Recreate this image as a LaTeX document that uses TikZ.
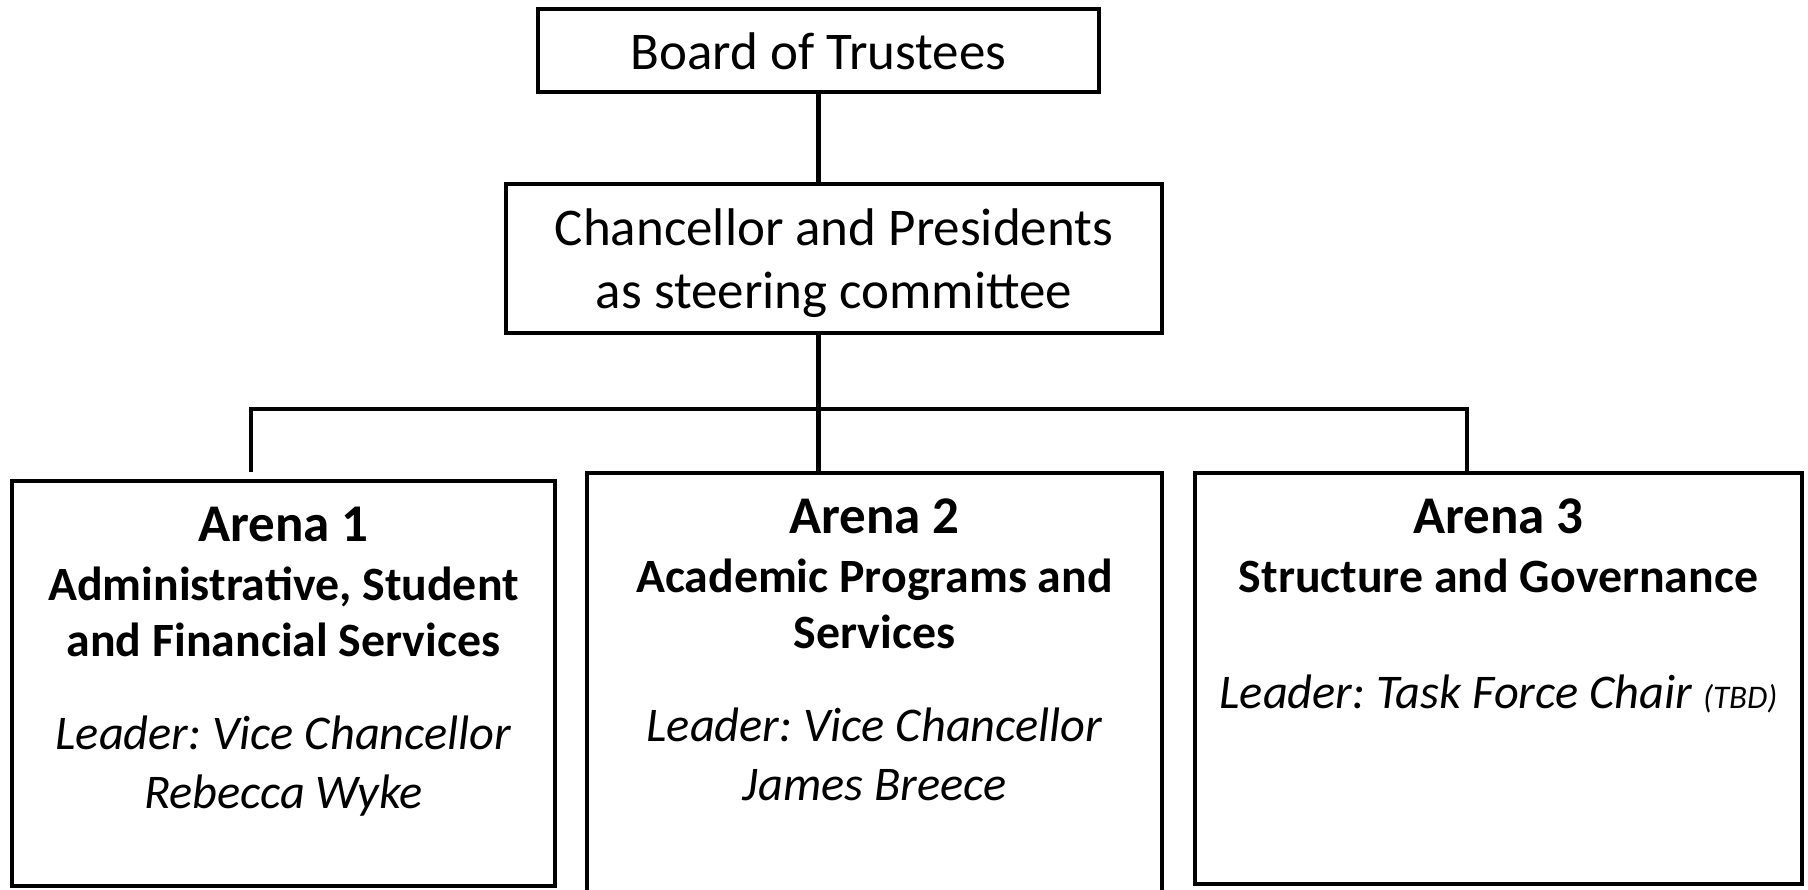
\documentclass[tikz,border=0pt]{standalone}
\usepackage{fontspec}
\setmainfont{Carlito}
\usetikzlibrary{fit}
\frenchspacing
\begin{document}
\begin{tikzpicture}[x=0.5pt,y=-0.5pt,
  box/.style={draw, line width=2.2pt, inner sep=0pt},
  conn/.style={line width=2.2pt},
  lbl/.style={font=\fontsize{26.5}{31.5}\selectfont, inner sep=0pt, align=center, anchor=base},
  head/.style={font=\fontsize{26.5}{31.5}\selectfont\bfseries, inner sep=0pt, align=center, anchor=base},
  sub/.style={font=\fontsize{23.9}{28}\selectfont\bfseries, inner sep=0pt, align=center, anchor=base},
  lead/.style={font=\fontsize{24.2}{29.5}\selectfont\itshape, inner sep=0pt, align=center, anchor=base}]
\useasboundingbox (0,0) rectangle (1808,889);
\clip (0,0) rectangle (1808,889);

% boxes
\node[box, fit={(538,9) (1099,92)}] (board) {};
\node[box, fit={(506,184) (1162,333)}] (chan) {};
\node[box, fit={(12,481) (555,886)}] (a1) {};
\node[box, fit={(587,473) (1162,905)}] (a2) {};
\node[box, fit={(1195,473) (1802,884)}] (a3) {};

% texts (multi-line nodes sit on the baseline of their last line)
\node[lbl] (boardtxt) at (818.5,69) {Board of Trustees};
\node[lbl] (chantxt) at (834,308) {Chancellor and Presidents\\as steering committee};

\node[head] (a1head) at (283.5,541) {Arena 1};
\node[sub]  (a1sub)  at (283.5,656) {Administrative, Student\\and Financial Services};
\node[lead] (a1lead) at (283.5,808) {Leader: Vice Chancellor\\Rebecca Wyke};

\node[head] (a2head) at (874.5,533) {Arena 2};
\node[sub]  (a2sub)  at (874.5,648) {Academic Programs and\\Services};
\node[lead] (a2lead) at (874.5,800) {Leader: Vice Chancellor\\James Breece};

\node[head] (a3head) at (1498.5,533) {Arena 3};
\node[sub]  (a3sub)  at (1498.5,592) {Structure and Governance};
\node[lead] (a3lead) at (1498.5,708) {Leader: Task Force Chair {\fontsize{16.5}{18}\selectfont (TBD)}};

% connectors
\coordinate (busL) at (251,409);
\coordinate (busR) at (1467,409);
\coordinate (a1stub) at (251,472);
\draw[conn] (board.south) -- (board.south |- chan.north);
\draw[conn] (board.south |- chan.south) -- (board.south |- a2.north);
\draw[conn] (a1stub) -- (busL) -- (busR) -- (busR |- a3.north);
\end{tikzpicture}
\end{document}
